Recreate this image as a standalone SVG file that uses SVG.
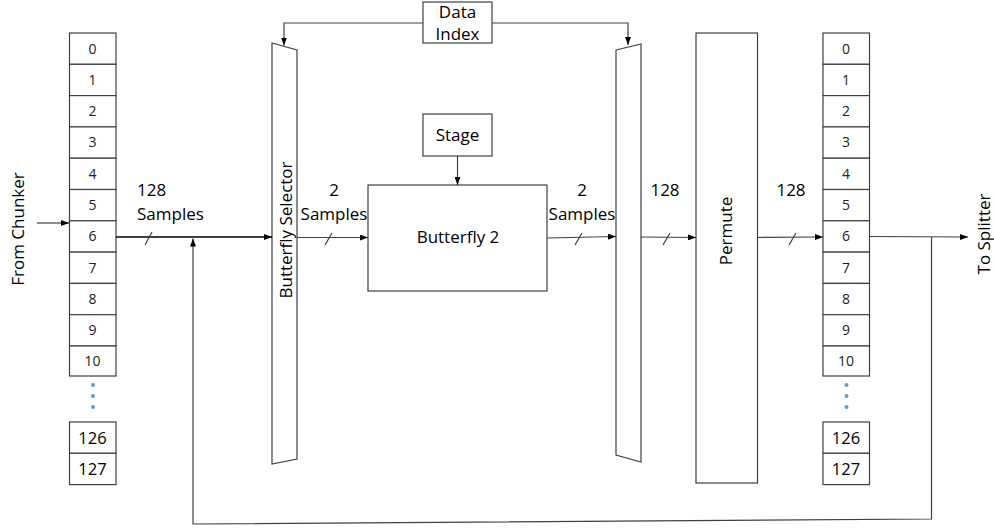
<svg xmlns="http://www.w3.org/2000/svg" width="994" height="529" viewBox="0 0 994 529">
<defs>
<marker id="ah" markerWidth="8" markerHeight="6" refX="8" refY="3" orient="auto" markerUnits="userSpaceOnUse">
<path d="M0,0 L8,3 L0,6 Z" fill="#000"/>
</marker>
<style>
.box{fill:#fff;stroke:#404040;stroke-width:1.2}
.ln{fill:none;stroke:#404040;stroke-width:1.2}
.t{font-family:"Open Sans","Liberation Sans",sans-serif;font-size:17px;fill:#000;text-anchor:middle}
.c{font-family:"Open Sans","Liberation Sans",sans-serif;font-size:14px;fill:#222;text-anchor:middle}
.cb{font-family:"Open Sans","Liberation Sans",sans-serif;font-size:16.5px;fill:#000;text-anchor:middle}
.dot{fill:#5b9bd5}
</style>
</defs>
<rect width="994" height="529" fill="#fff"/>

<g id="input-array">
<rect class="box" x="69.5" y="33" width="46.5" height="31.3"/>
<rect class="box" x="69.5" y="64.3" width="46.5" height="31.3"/>
<rect class="box" x="69.5" y="95.6" width="46.5" height="31.3"/>
<rect class="box" x="69.5" y="126.9" width="46.5" height="31.3"/>
<rect class="box" x="69.5" y="158.2" width="46.5" height="31.3"/>
<rect class="box" x="69.5" y="189.5" width="46.5" height="31.3"/>
<rect class="box" x="69.5" y="220.8" width="46.5" height="31.3"/>
<rect class="box" x="69.5" y="252.1" width="46.5" height="31.3"/>
<rect class="box" x="69.5" y="283.4" width="46.5" height="31.3"/>
<rect class="box" x="69.5" y="314.7" width="46.5" height="31.3"/>
<rect class="box" x="69.5" y="346" width="46.5" height="30"/>
<text class="c" x="92.5" y="53.5">0</text>
<text class="c" x="92.5" y="84.8">1</text>
<text class="c" x="92.5" y="116.1">2</text>
<text class="c" x="92.5" y="147.4">3</text>
<text class="c" x="92.5" y="178.7">4</text>
<text class="c" x="92.5" y="210">5</text>
<text class="c" x="92.5" y="241.3">6</text>
<text class="c" x="92.5" y="272.6">7</text>
<text class="c" x="92.5" y="303.9">8</text>
<text class="c" x="92.5" y="335.2">9</text>
<text class="c" x="92.5" y="366">10</text>
<circle class="dot" cx="93" cy="385" r="2"/>
<circle class="dot" cx="93" cy="396" r="2"/>
<circle class="dot" cx="93" cy="407" r="2"/>
<rect class="box" x="69.5" y="422" width="46.5" height="31.3"/>
<rect class="box" x="69.5" y="453.3" width="46.5" height="31.3"/>
<text class="cb" x="92.5" y="444">126</text>
<text class="cb" x="92.5" y="475.3">127</text>
</g>

<g id="output-array">
<rect class="box" x="823" y="33" width="46.5" height="31.3"/>
<rect class="box" x="823" y="64.3" width="46.5" height="31.3"/>
<rect class="box" x="823" y="95.6" width="46.5" height="31.3"/>
<rect class="box" x="823" y="126.9" width="46.5" height="31.3"/>
<rect class="box" x="823" y="158.2" width="46.5" height="31.3"/>
<rect class="box" x="823" y="189.5" width="46.5" height="31.3"/>
<rect class="box" x="823" y="220.8" width="46.5" height="31.3"/>
<rect class="box" x="823" y="252.1" width="46.5" height="31.3"/>
<rect class="box" x="823" y="283.4" width="46.5" height="31.3"/>
<rect class="box" x="823" y="314.7" width="46.5" height="31.3"/>
<rect class="box" x="823" y="346" width="46.5" height="30"/>
<text class="c" x="846" y="53.5">0</text>
<text class="c" x="846" y="84.8">1</text>
<text class="c" x="846" y="116.1">2</text>
<text class="c" x="846" y="147.4">3</text>
<text class="c" x="846" y="178.7">4</text>
<text class="c" x="846" y="210">5</text>
<text class="c" x="846" y="241.3">6</text>
<text class="c" x="846" y="272.6">7</text>
<text class="c" x="846" y="303.9">8</text>
<text class="c" x="846" y="335.2">9</text>
<text class="c" x="846" y="366">10</text>
<circle class="dot" cx="846.5" cy="385" r="2"/>
<circle class="dot" cx="846.5" cy="396" r="2"/>
<circle class="dot" cx="846.5" cy="407" r="2"/>
<rect class="box" x="823" y="422" width="46.5" height="31.3"/>
<rect class="box" x="823" y="453.3" width="46.5" height="31.3"/>
<text class="cb" x="846" y="444">126</text>
<text class="cb" x="846" y="475.3">127</text>
</g>

<g id="butterfly-selector">
<polygon class="box" points="272,43 297,50 297,459 272,464"/>
<text class="t" transform="translate(292,230) rotate(-90)">Butterfly Selector</text>
</g>

<g id="output-selector">
<polygon class="box" points="616,50 641,44 641,462 616,455"/>
</g>

<g id="data-index">
<rect class="box" x="423" y="2" width="69" height="41"/>
<text class="t" x="457.5" y="18">Data</text>
<text class="t" x="457.5" y="40">Index</text>
</g>

<g id="stage">
<rect class="box" x="423" y="114" width="69" height="42"/>
<text class="t" x="457.5" y="141">Stage</text>
</g>

<g id="butterfly2">
<rect class="box" x="368" y="185" width="179" height="106"/>
<text class="t" x="458" y="243">Butterfly 2</text>
</g>

<g id="permute">
<rect class="box" x="696" y="33" width="61.5" height="450"/>
<text class="t" transform="translate(732,231) rotate(-90)">Permute</text>
</g>

<g id="connectors">
<line class="ln" x1="37" y1="223" x2="69" y2="223" marker-end="url(#ah)"/>
<line x1="116" y1="237" x2="272" y2="237" stroke="#000" stroke-width="1.6" marker-end="url(#ah)"/>
<line class="ln" x1="145" y1="245" x2="152" y2="232"/>
<line class="ln" x1="297" y1="237.5" x2="368" y2="237.5" marker-end="url(#ah)"/>
<line class="ln" x1="325" y1="245" x2="332" y2="233"/>
<line class="ln" x1="547" y1="238" x2="616" y2="236.5" marker-end="url(#ah)"/>
<line class="ln" x1="575" y1="245" x2="582" y2="233"/>
<line class="ln" x1="641" y1="237" x2="696" y2="237.5" marker-end="url(#ah)"/>
<line class="ln" x1="663" y1="245" x2="670" y2="233"/>
<line class="ln" x1="757.5" y1="237.5" x2="823" y2="237" marker-end="url(#ah)"/>
<line class="ln" x1="789" y1="245" x2="796" y2="233"/>
<line class="ln" x1="869.5" y1="236.5" x2="968" y2="237" marker-end="url(#ah)"/>
<polyline class="ln" points="931.5,237 931.5,519 193,524 193,238.5" marker-end="url(#ah)"/>
<polyline class="ln" points="423,23 284,23 284,45.5" marker-end="url(#ah)"/>
<polyline class="ln" points="492,23 628,23 628,45" marker-end="url(#ah)"/>
<line class="ln" x1="457.5" y1="156" x2="457.5" y2="185" marker-end="url(#ah)"/>
</g>

<g id="labels">
<text class="t" x="18" y="229" transform="rotate(-90 18 229)" dy="6">From Chunker</text>
<text class="t" x="984" y="234" transform="rotate(-90 984 234)" dy="6">To Splitter</text>
<text class="t" x="137" y="196" style="text-anchor:start">128</text>
<text class="t" x="137" y="220" style="text-anchor:start">Samples</text>
<text class="t" x="334" y="196">2</text>
<text class="t" x="334" y="220">Samples</text>
<text class="t" x="582" y="196">2</text>
<text class="t" x="582" y="220">Samples</text>
<text class="t" x="665" y="196">128</text>
<text class="t" x="791" y="196">128</text>
</g>
</svg>
